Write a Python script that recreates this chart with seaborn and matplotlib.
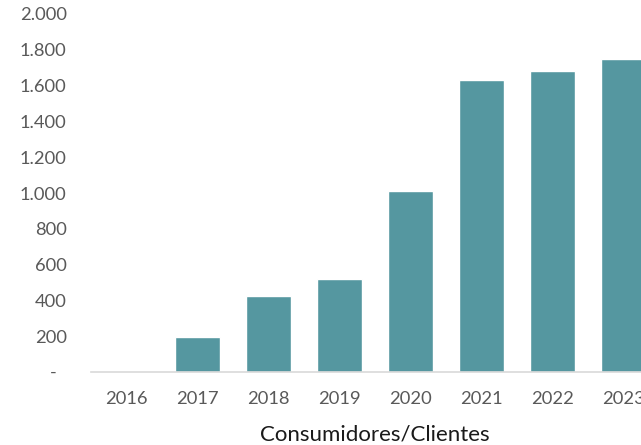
import seaborn as sns
import matplotlib.pyplot as plt
import pandas as pd

## 数据
anos = ["2016", "2017", "2018", "2019", "2020", "2021", "2022", "2023"]
clientes = [0, 195, 424, 520, 1011, 1631, 1680, 1750]
y_ticks = [0, 200, 400, 600, 800, 1000, 1200, 1400, 1600, 1800, 2000]

df = pd.DataFrame({"ano": anos, "clientes": clientes})

sns.set_style("white")
plt.rcParams["font.family"] = ["Lato", "DejaVu Sans"]

fig = plt.figure(figsize=(6.41, 4.45), dpi=100)
ax = fig.add_axes([91 / 641, 73 / 445, 568 / 641, 358 / 445])

sns.barplot(data=df, x="ano", y="clientes", color="#5597A0", saturation=1,
            width=0.62, ax=ax)

ax.set_xlim(-0.5, 7.5)
ax.set_ylim(0, 2000)
ax.set_yticks(y_ticks)


def fmt(v):
    if v == 0:
        return "-  "
    return f"{v:,}".replace(",", ".")


ax.set_yticklabels([fmt(v) for v in y_ticks])

for s in ["top", "right", "left"]:
    ax.spines[s].set_visible(False)
ax.spines["bottom"].set_color("#D9D9D9")
ax.spines["bottom"].set_linewidth(1.2)

ax.tick_params(axis="both", length=0, labelsize=13.2, labelcolor="#595959")
ax.tick_params(axis="y", pad=17.5)
ax.tick_params(axis="x", pad=14)
ax.set_ylabel("")
ax.set_xlabel("Consumidores/Clientes", fontsize=16, color="#1a1a1a", labelpad=12)

fig.savefig("out.png", dpi=100)
